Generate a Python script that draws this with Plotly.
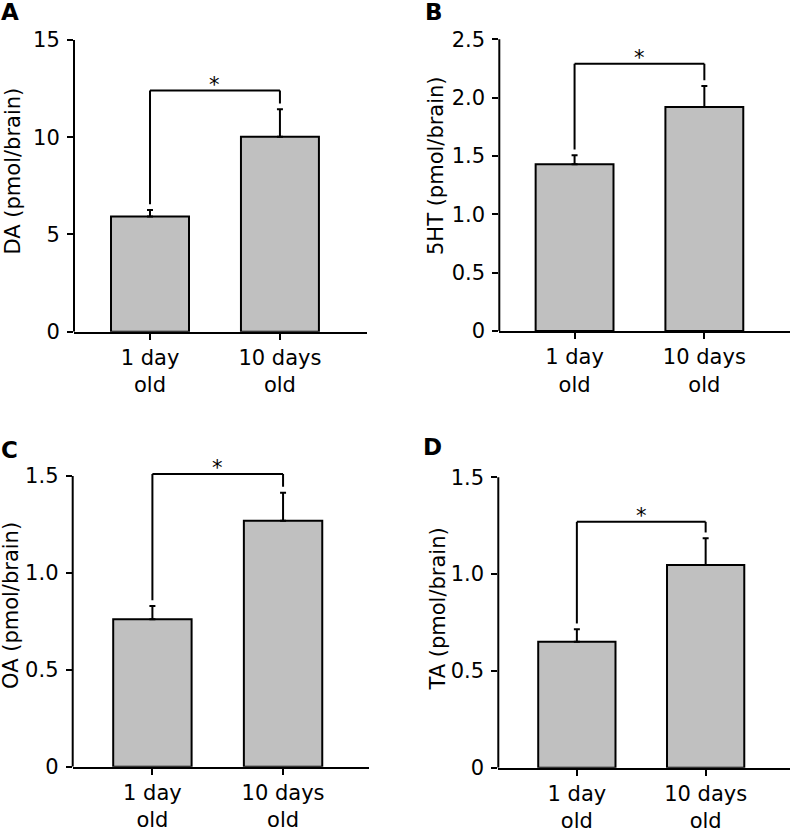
import plotly.graph_objects as go

W, H = 791, 830

# ---------------- data ----------------
categories = ["1 day<br>old", "10 days<br>old"]

da_mean = [5.92, 10.03]
da_err = [0.34, 1.41]
ht_mean = [1.43, 1.92]
ht_err = [0.076, 0.18]
oa_mean = [0.761, 1.269]
oa_err = [0.068, 0.145]
ta_mean = [0.651, 1.047]
ta_err = [0.064, 0.138]

da_ticks = [0, 5, 10, 15]
da_ticktext = ["0", "5", "10", "15"]
ht_ticks = [0, 0.5, 1.0, 1.5, 2.0, 2.5]
ht_ticktext = ["0", "0.5", "1.0", "1.5", "2.0", "2.5"]
oa_ticks = [0, 0.5, 1.0, 1.5]
oa_ticktext = ["0", "0.5", "1.0", "1.5"]
ta_ticks = [0, 0.5, 1.0, 1.5]
ta_ticktext = ["0", "0.5", "1.0", "1.5"]

letters = ["A", "B", "C", "D"]
ytitles = ["DA (pmol/brain)", "5HT (pmol/brain)", "OA (pmol/brain)", "TA (pmol/brain)"]
bracket_y = [12.4, 2.29, 1.51, 1.27]
significance = ["*", "*", "*", "*"]

means = [da_mean, ht_mean, oa_mean, ta_mean]
errs = [da_err, ht_err, oa_err, ta_err]
ticks = [da_ticks, ht_ticks, oa_ticks, ta_ticks]
ticktexts = [da_ticktext, ht_ticktext, oa_ticktext, ta_ticktext]

# ---------------- layout geometry (window pixels) ----------------
geom = [
    dict(x=(74.0, 367.0), y0=331.7, yt=40.0, xr=(-0.585, 1.67), title=(12.0, 171.5), letter=(-1, 12.5)),
    dict(x=(499.3, 790.0), y0=331.0, yt=39.3, xr=(-0.58, 1.66), title=(436.0, 165.0), letter=(423, 11.5)),
    dict(x=(72.7, 369.3), y0=766.7, yt=476.0, xr=(-0.61, 1.66), title=(11.0, 606.0), letter=(-1, 449.7)),
    dict(x=(498.3, 790.0), y0=767.7, yt=477.3, xr=(-0.61, 1.655), title=(437.0, 609.5), letter=(420.5, 446.7)),
]
TOPF = 1.08


def fx(px):
    return px / W


def fy(py):
    return 1 - py / H


FONT = "DejaVu Sans"
fig = go.Figure()
layout = dict(
    template="none",
    width=W, height=H,
    margin=dict(l=0, r=0, t=0, b=0, pad=0, autoexpand=False),
    paper_bgcolor="white", plot_bgcolor="white",
    showlegend=False,
    font=dict(family=FONT, size=21, color="black"),
    bargap=0.4,
)
shapes = []
annotations = []

xpos = list(range(len(categories)))

for i in range(4):
    g = geom[i]
    sfx = "" if i == 0 else str(i + 1)
    xa, ya = "x" + sfx, "y" + sfx
    tmax = ticks[i][-1]
    rtop = tmax * TOPF
    top_px = g["y0"] - (g["y0"] - g["yt"]) * TOPF
    fig.add_trace(go.Bar(
        x=xpos, y=means[i], width=0.6,
        marker=dict(color="#c0c0c0", line=dict(color="black", width=2)),
        error_y=dict(type="data", symmetric=False, array=errs[i], arrayminus=[0] * len(errs[i]),
                     color="black", thickness=2, width=3),
        xaxis=xa, yaxis=ya, hoverinfo="skip",
    ))
    layout["xaxis" + sfx] = dict(
        domain=[max(0, fx(g["x"][0])), min(1, fx(g["x"][1]))], anchor=ya, automargin=False,
        range=list(g["xr"]), tickmode="array", tickvals=xpos, ticktext=categories,
        showline=True, linecolor="black", linewidth=2, ticks="outside", ticklen=6, tickwidth=2,
        tickcolor="black", showgrid=False, zeroline=False, fixedrange=True,
        ticklabelstandoff=0,
        tickfont=dict(family=FONT, size=21, color="black"),
    )
    layout["yaxis" + sfx] = dict(
        domain=[fy(g["y0"]), fy(top_px)], anchor=xa, automargin=False,
        range=[0, rtop], tickmode="array", tickvals=ticks[i], ticktext=ticktexts[i],
        showline=False, ticks="outside", ticklen=6, tickwidth=2, tickcolor="black",
        showgrid=False, zeroline=False, fixedrange=True,
        ticklabelstandoff=3,
        tickfont=dict(family=FONT, size=21, color="black"),
    )
    # y axis line up to the top tick
    shapes.append(dict(type="line", xref=xa + " domain", yref=ya, x0=0, x1=0, y0=0, y1=tmax,
                       line=dict(color="black", width=2)))
    # significance bracket
    gap = 0.02 * tmax
    by = bracket_y[i]
    l0 = means[i][0] + errs[i][0] + gap
    l1 = means[i][1] + errs[i][1] + gap
    for (x0, y0, x1, y1) in [(0, l0, 0, by), (0, by, 1, by), (1, by, 1, l1)]:
        shapes.append(dict(type="line", xref=xa, yref=ya, x0=x0, y0=y0, x1=x1, y1=y1,
                           line=dict(color="black", width=2)))
    annotations.append(dict(text=significance[i], x=0.5, y=by, xref=xa, yref=ya,
                            showarrow=False, yanchor="bottom", yshift=-8,
                            font=dict(family=FONT, size=21, color="black")))
    # y axis title
    annotations.append(dict(text=ytitles[i], x=fx(g["title"][0]), y=fy(g["title"][1]),
                            xref="paper", yref="paper", textangle=-90, showarrow=False,
                            xanchor="center", yanchor="middle",
                            font=dict(family=FONT, size=21, color="black")))
    # panel letter
    annotations.append(dict(text="<b>" + letters[i] + "</b>", x=fx(g["letter"][0]),
                            y=fy(g["letter"][1]), xref="paper", yref="paper",
                            showarrow=False, xanchor="left", yanchor="middle",
                            font=dict(family=FONT, size=23, color="black")))

layout["shapes"] = shapes
layout["annotations"] = annotations
fig.update_layout(**layout)
# remove the browser's default 8px body margin so the figure fills the window exactly
fig.write_html("out.html", config={"displayModeBar": False, "staticPlot": True},
               post_script="document.body.style.margin='0';")
